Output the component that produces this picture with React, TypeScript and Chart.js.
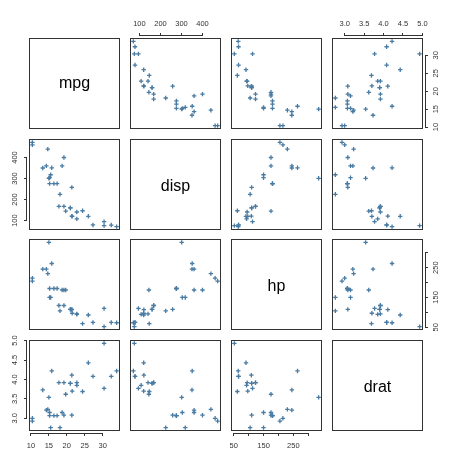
import React, { useEffect, useRef } from 'react';
import { Chart, registerables } from 'chart.js';

Chart.register(...registerables);

// Motor Trend cars: four variables, 32 cars
const variables = ['mpg', 'disp', 'hp', 'drat'];
const mpg = [21.0, 21.0, 22.8, 21.4, 18.7, 18.1, 14.3, 24.4, 22.8, 19.2, 17.8, 16.4, 17.3, 15.2, 10.4, 10.4, 14.7, 32.4, 30.4, 33.9, 21.5, 15.5, 15.2, 13.3, 19.2, 27.3, 26.0, 30.4, 15.8, 19.7, 15.0, 21.4];
const disp = [160, 160, 108, 258, 360, 225, 360, 146.7, 140.8, 167.6, 167.6, 275.8, 275.8, 275.8, 472, 460, 440, 78.7, 75.7, 71.1, 120.1, 318, 304, 350, 400, 79, 120.3, 95.1, 351, 145, 301, 121];
const hp = [110, 110, 93, 110, 175, 105, 245, 62, 95, 123, 123, 180, 180, 180, 205, 215, 230, 66, 52, 65, 97, 150, 150, 245, 175, 66, 91, 113, 264, 175, 335, 109];
const drat = [3.90, 3.90, 3.85, 3.08, 3.15, 2.76, 3.21, 3.69, 3.92, 3.92, 3.92, 3.07, 3.07, 3.07, 2.93, 3.00, 3.23, 4.08, 4.93, 4.22, 3.70, 2.76, 3.15, 3.73, 3.08, 4.08, 4.43, 3.77, 4.22, 3.62, 3.54, 4.11];

const mpgTicks = [10, 15, 20, 25, 30];
const dispTicks = [100, 200, 300, 400];
const hpTicks = [50, 100, 150, 200, 250, 300];
const dratTicks = [3.0, 3.5, 4.0, 4.5, 5.0];

const mpgTickLabels = ['10', '15', '20', '25', '30'];
const dispTickLabels = ['100', '200', '300', '400'];
const hpTickLabels = ['50', '', '150', '', '250', ''];
const dratTickLabels = ['3.0', '3.5', '4.0', '4.5', '5.0'];

const series = [mpg, disp, hp, drat];
const tickValues = [mpgTicks, dispTicks, hpTicks, dratTicks];
const tickLabels = [mpgTickLabels, dispTickLabels, hpTickLabels, dratTickLabels];

// page geometry
const W = 451;
const H = 455;
const COL_LEFT = [29, 130, 231, 332];
const ROW_TOP = [38, 139, 239, 340];
const SIZE = 91;
const AXIS = 22;
const TICK = 5;
const FONT = '"Liberation Sans", Arial, Helvetica, sans-serif';
const INK = '#333333';
const POINT = '#4a7ba3';
// label distance tweaks per variable for vertical axes
const Y_LABEL_PAD = [4, 3, 2, 4];

const pairsFrame = {
  id: 'pairsFrame',
  afterDatasetsDraw(chart: any, _args: any, opts: any) {
    const { ctx, chartArea: a } = chart;
    ctx.save();
    ctx.strokeStyle = INK;
    ctx.lineWidth = 1;
    ctx.strokeRect(a.left + 0.5, a.top + 0.5, a.right - a.left - 1, a.bottom - a.top - 1);

    // axis line spanning the first to the last tick, set slightly off the box
    for (const s of Object.values(chart.scales) as any[]) {
      if (!s.options.display || !s.ticks.length) continue;
      const p0 = s.getPixelForValue(s.ticks[0].value);
      const p1 = s.getPixelForValue(s.ticks[s.ticks.length - 1].value);
      ctx.beginPath();
      if (s.position === 'top') {
        const y = a.top - 2.5;
        ctx.moveTo(p0, y); ctx.lineTo(p1, y);
      } else if (s.position === 'bottom') {
        const y = a.bottom + 2.5;
        ctx.moveTo(p0, y); ctx.lineTo(p1, y);
      } else if (s.position === 'left') {
        const x = a.left - 2.5;
        ctx.moveTo(x, p0); ctx.lineTo(x, p1);
      } else {
        const x = a.right + 2.5;
        ctx.moveTo(x, p0); ctx.lineTo(x, p1);
      }
      ctx.stroke();
    }

    if (opts && opts.label) {
      ctx.fillStyle = '#000';
      ctx.font = `16px ${FONT}`;
      ctx.textAlign = 'center';
      ctx.textBaseline = 'alphabetic';
      const m = ctx.measureText(opts.label);
      const cx = (a.left + a.right) / 2;
      const cy = (a.top + a.bottom) / 2;
      ctx.fillText(opts.label, cx, cy + m.actualBoundingBoxAscent / 2);
    }
    ctx.restore();
  },
};

function makeScale(axis: 'x' | 'y', v: number, show: boolean, position: string) {
  const vals = series[v];
  const lo = Math.min(...vals);
  const hi = Math.max(...vals);
  const ext = (hi - lo) * 0.04;
  const outerFirst = position === 'top' || position === 'left';
  return {
    type: 'linear',
    position,
    display: show,
    min: lo - ext,
    max: hi + ext,
    grid: {
      display: true,
      drawOnChartArea: false,
      drawTicks: true,
      tickLength: TICK,
      color: INK,
      lineWidth: 1,
      tickBorderDash: [3, 2],
      tickBorderDashOffset: outerFirst ? 0 : 3,
    },
    border: { display: false },
    ticks: {
      autoSkip: false,
      color: INK,
      font: { family: FONT, size: 7.5 },
      padding: axis === 'x' ? 5 : Y_LABEL_PAD[v],
      minRotation: axis === 'y' ? 90 : 0,
      maxRotation: axis === 'y' ? 90 : 0,
      crossAlign: axis === 'y' ? 'center' : 'near',
      callback: (_value: number, index: number) => tickLabels[v][index],
    },
    afterBuildTicks: (s: any) => {
      s.ticks = tickValues[v].map((value) => ({ value }));
    },
    afterFit: (s: any) => {
      const size = show ? AXIS : 0;
      if (axis === 'x') s.height = size;
      else s.width = size;
      s.paddingLeft = 0;
      s.paddingRight = 0;
      s.paddingTop = 0;
      s.paddingBottom = 0;
    },
  };
}

function Panel({ row, col }: { row: number; col: number }) {
  const ref = useRef<HTMLCanvasElement>(null);
  useEffect(() => {
    const diag = row === col;
    const hasTop = row === 0 && col % 2 === 1;
    const hasBottom = row === 3 && col % 2 === 0;
    const hasLeft = col === 0 && row % 2 === 1;
    const hasRight = col === 3 && row % 2 === 0;
    const xs = series[col];
    const ys = series[row];
    const chart = new Chart(ref.current as HTMLCanvasElement, {
      type: 'scatter',
      data: {
        datasets: diag
          ? []
          : [
              {
                data: xs.map((x, k) => ({ x, y: ys[k] })),
                pointStyle: 'cross',
                pointRadius: 2.2,
                pointBorderWidth: 1.3,
                pointBorderColor: POINT,
                pointBackgroundColor: POINT,
                showLine: false,
              },
            ],
      },
      options: {
        animation: false,
        responsive: false,
        events: [],
        layout: {
          padding: {
            left: COL_LEFT[col] - (hasLeft ? AXIS : 0),
            top: ROW_TOP[row] - (hasTop ? AXIS : 0),
            right: W - (COL_LEFT[col] + SIZE) - (hasRight ? AXIS : 0),
            bottom: H - (ROW_TOP[row] + SIZE) - (hasBottom ? AXIS : 0),
          },
        },
        plugins: {
          legend: { display: false },
          tooltip: { enabled: false },
          pairsFrame: { label: diag ? variables[row] : '' },
        } as any,
        scales: {
          x: makeScale('x', col, hasTop || hasBottom, hasTop ? 'top' : 'bottom'),
          y: makeScale('y', row, hasLeft || hasRight, hasRight ? 'right' : 'left'),
        } as any,
      },
      plugins: [pairsFrame],
    } as any);
    return () => chart.destroy();
  }, [row, col]);
  return (
    <canvas
      ref={ref}
      width={W}
      height={H}
      style={{ position: 'absolute', left: 0, top: 0, width: W, height: H }}
    />
  );
}

export default function App() {
  const cells: React.ReactNode[] = [];
  for (let r = 0; r < 4; r++) {
    for (let c = 0; c < 4; c++) {
      cells.push(<Panel key={`${r}-${c}`} row={r} col={c} />);
    }
  }
  return (
    <div style={{ position: 'absolute', left: 0, top: 0, width: W, height: H, background: '#fff' }}>
      {cells}
    </div>
  );
}
